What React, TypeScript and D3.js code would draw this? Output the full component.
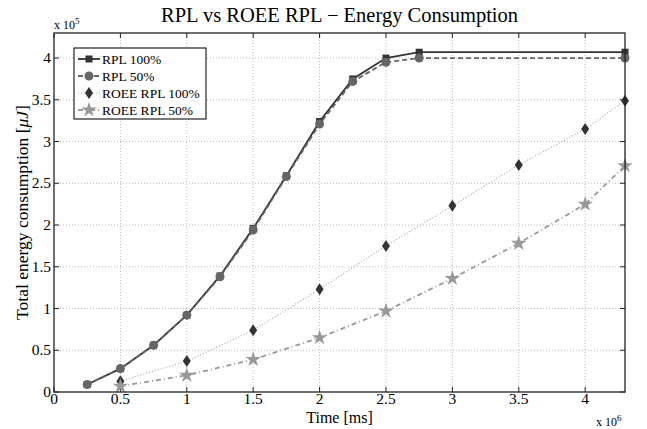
import React from 'react';
import * as d3 from 'd3';

const rplX = [0.25, 0.5, 0.75, 1, 1.25, 1.5, 1.75, 2, 2.25, 2.5, 2.75, 4.3];
const rpl100 = [0.09, 0.28, 0.56, 0.92, 1.39, 1.96, 2.59, 3.24, 3.75, 4.0, 4.07, 4.07];
const rpl50 = [0.09, 0.28, 0.56, 0.92, 1.38, 1.94, 2.58, 3.21, 3.72, 3.95, 4.0, 4.0];
const roeeX = [0.5, 1, 1.5, 2, 2.5, 3, 3.5, 4, 4.3];
const roee100 = [0.13, 0.37, 0.74, 1.23, 1.75, 2.23, 2.72, 3.15, 3.49];
const roee50 = [0.07, 0.2, 0.39, 0.65, 0.97, 1.36, 1.78, 2.25, 2.71];
const xTicks = [0, 0.5, 1, 1.5, 2, 2.5, 3, 3.5, 4];
const yTicks = [0, 0.5, 1, 1.5, 2, 2.5, 3, 3.5, 4];

const W = 647;
const H = 429;
const margin = { top: 33, right: 22, bottom: 37, left: 54 };
const font = '"Liberation Serif", "Times New Roman", serif';

type Series = {
  name: string;
  xs: number[];
  ys: number[];
  line: string;
  dash: string;
  width: number;
  marker: string;
  fill: string;
};

const series: Series[] = [
  { name: 'RPL 100%', xs: rplX, ys: rpl100, line: '#333', dash: '', width: 1.8, marker: 'square', fill: '#333' },
  { name: 'RPL 50%', xs: rplX, ys: rpl50, line: '#666', dash: '5,3', width: 1.8, marker: 'circle', fill: '#666' },
  { name: 'ROEE RPL 100%', xs: roeeX, ys: roee100, line: '#aaa', dash: '1,2', width: 1.2, marker: 'diamond', fill: '#333' },
  { name: 'ROEE RPL 50%', xs: roeeX, ys: roee50, line: '#999', dash: '5,3,1,3', width: 1.8, marker: 'star', fill: '#999' },
];

function Marker({ kind, x, y, fill }: { kind: string; x: number; y: number; fill: string }) {
  if (kind === 'square') return <rect x={x - 3.5} y={y - 3.5} width={7} height={7} fill={fill} />;
  if (kind === 'circle') return <circle cx={x} cy={y} r={4.5} fill={fill} />;
  if (kind === 'diamond')
    return <path d={`M${x},${y - 6}L${x + 4},${y}L${x},${y + 6}L${x - 4},${y}Z`} fill={fill} />;
  const sym = d3.symbol().type(d3.symbolStar).size(75)();
  return <path d={sym || ''} transform={`translate(${x},${y})`} fill={fill} />;
}

export default function App() {
  const x = d3.scaleLinear().domain([0, 4.3]).range([margin.left, W - margin.right]);
  const y = d3.scaleLinear().domain([0, 4.3]).range([H - margin.bottom, margin.top]);
  const x0 = margin.left;
  const x1 = W - margin.right;
  const y0 = H - margin.bottom;
  const y1 = margin.top;

  const lineGen = (s: Series) =>
    d3.line<number>().x((_, i) => x(s.xs[i])).y((d) => y(d))(s.ys) || '';

  return (
    <svg width={W} height={H} style={{ position: 'absolute', left: 0, top: 0, background: '#fff' }} fontFamily={font}>
      <rect width={W} height={H} fill="#fff" />
      {/* grid */}
      {xTicks.filter((t) => t > 0).map((t) => (
        <line key={'gx' + t} x1={x(t)} x2={x(t)} y1={y0} y2={y1} stroke="#aaa" strokeWidth={0.8} strokeDasharray="1,2" />
      ))}
      {yTicks.filter((t) => t > 0).map((t) => (
        <line key={'gy' + t} x1={x0} x2={x1} y1={y(t)} y2={y(t)} stroke="#aaa" strokeWidth={0.8} strokeDasharray="1,2" />
      ))}
      {/* ticks */}
      {xTicks.map((t) => (
        <g key={'tx' + t}>
          <line x1={x(t)} x2={x(t)} y1={y0} y2={y0 - 5} stroke="#222" />
          <line x1={x(t)} x2={x(t)} y1={y1} y2={y1 + 5} stroke="#222" />
          <text x={x(t)} y={y0 + 12} textAnchor="middle" fontSize={15.5}>{t}</text>
        </g>
      ))}
      {yTicks.map((t) => (
        <g key={'ty' + t}>
          <line x1={x0} x2={x0 + 5} y1={y(t)} y2={y(t)} stroke="#222" />
          <line x1={x1} x2={x1 - 5} y1={y(t)} y2={y(t)} stroke="#222" />
          <text x={x0 - 3} y={y(t) + 5} textAnchor="end" fontSize={15.5}>{t}</text>
        </g>
      ))}
      {/* series */}
      {series.map((s) => (
        <g key={s.name}>
          <path d={lineGen(s)} fill="none" stroke={s.line} strokeWidth={s.width} strokeDasharray={s.dash} />
          {s.ys.map((v, i) => (
            <Marker key={i} kind={s.marker} x={x(s.xs[i])} y={y(v)} fill={s.fill} />
          ))}
        </g>
      ))}
      <rect x={x0} y={y1} width={x1 - x0} height={y0 - y1} fill="none" stroke="#222" strokeWidth={1.3} />
      {/* legend */}
      <rect x={74} y={48} width={132} height={71} fill="#fff" stroke="#222" strokeWidth={1.2} />
      {series.map((s, i) => {
        const ly = 59 + i * 17;
        return (
          <g key={'lg' + s.name}>
            <line x1={78} x2={100} y1={ly} y2={ly} stroke={s.line} strokeWidth={s.width} strokeDasharray={s.dash} />
            <Marker kind={s.marker} x={89} y={ly} fill={s.fill} />
            <text x={102} y={ly + 5} fontSize={13.5}>{s.name}</text>
          </g>
        );
      })}
      {/* labels */}
      <text x={(x0 + x1) / 2} y={22} textAnchor="middle" fontSize={20.5}>RPL vs ROEE RPL − Energy Consumption</text>
      <text x={(x0 + x1) / 2} y={423} textAnchor="middle" fontSize={16}>Time [ms]</text>
      <text transform={`translate(28,${(y0 + y1) / 2}) rotate(-90)`} textAnchor="middle" fontSize={17.5}>
        Total energy consumption [<tspan fontStyle="italic">μJ</tspan>]
      </text>
      <text x={54} y={29} fontSize={12}>x 10<tspan dy={-5} fontSize={9}>5</tspan></text>
      <text x={596} y={426} fontSize={12}>x 10<tspan dy={-5} fontSize={9}>6</tspan></text>
    </svg>
  );
}
